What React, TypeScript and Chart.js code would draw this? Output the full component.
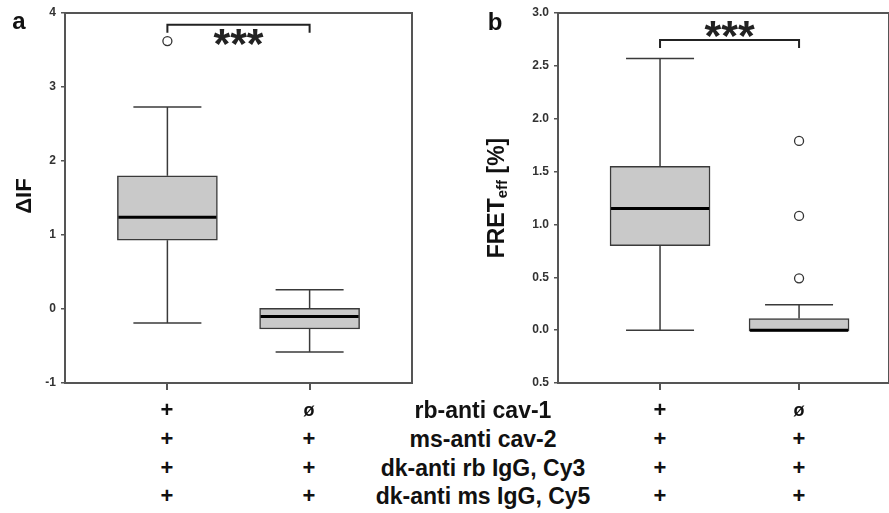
import React, { useEffect, useRef } from 'react';
import { Chart, registerables } from 'chart.js';

Chart.register(...registerables);

// ---------- data ----------
const groupPositions = [1, 2];

// Panel a: ΔIF
const aLowerWhisker = [-0.19, -0.58];
const aQ1 = [0.93, -0.27];
const aMedian = [1.24, -0.1];
const aQ3 = [1.8, 0.01];
const aUpperWhisker = [2.73, 0.26];
const aOutlierGroups = [1];
const aOutlierValues = [3.62];
const aTicks = [-1, 0, 1, 2, 3, 4];
const aTickLabels = ['-1', '0', '1', '2', '3', '4'];
const aBracketValue = 3.84;

// Panel b: FRETeff [%]
const bLowerWhisker = [0.0, -0.01];
const bQ1 = [0.8, -0.01];
const bMedian = [1.15, 0.0];
const bQ3 = [1.55, 0.11];
const bUpperWhisker = [2.57, 0.24];
const bOutlierGroups = [2, 2, 2];
const bOutlierValues = [1.79, 1.08, 0.49];
const bTicks = [-0.5, 0, 0.5, 1, 1.5, 2, 2.5, 3];
const bTickLabels = ['0.5', '0.0', '0.5', '1.0', '1.5', '2.0', '2.5', '3.0'];
const bBracketValue = 2.745;

const significance = '***';
const rowLabels = ['rb-anti cav-1', 'ms-anti cav-2', 'dk-anti rb IgG, Cy3', 'dk-anti ms IgG, Cy5'];
const group1Marks = ['+', '+', '+', '+'];
const group2Marks = ['ø', '+', '+', '+'];

// ---------- styling ----------
const FONT = '"Liberation Sans", Arial, Helvetica, sans-serif';
const AXIS_COLOR = '#555555';
const LINE_COLOR = '#3a3a3a';
const BOX_FILL = '#c9c9c9';

const boxDecor = {
  id: 'boxDecor',
  afterDatasetsDraw(chart: any, _args: any, opts: any) {
    const { ctx, chartArea, scales } = chart;
    const x = scales.x;
    const y = scales.y;
    ctx.save();
    // frame
    ctx.strokeStyle = AXIS_COLOR;
    ctx.lineWidth = 2;
    ctx.strokeRect(chartArea.left, chartArea.top, chartArea.right - chartArea.left, chartArea.bottom - chartArea.top);

    const line = (x1: number, y1: number, x2: number, y2: number) => {
      ctx.beginPath();
      ctx.moveTo(x1, y1);
      ctx.lineTo(x2, y2);
      ctx.stroke();
    };
    const meta = chart.getDatasetMeta(0);
    opts.positions.forEach((p: number, i: number) => {
      const cx = x.getPixelForValue(p);
      const capHalf = 34;
      ctx.strokeStyle = LINE_COLOR;
      ctx.lineWidth = 1.5;
      line(cx, y.getPixelForValue(opts.q3[i]), cx, y.getPixelForValue(opts.upper[i]));
      line(cx, y.getPixelForValue(opts.q1[i]), cx, y.getPixelForValue(opts.lower[i]));
      line(cx - capHalf, y.getPixelForValue(opts.upper[i]), cx + capHalf, y.getPixelForValue(opts.upper[i]));
      if (opts.lower[i] !== opts.q1[i]) {
        line(cx - capHalf, y.getPixelForValue(opts.lower[i]), cx + capHalf, y.getPixelForValue(opts.lower[i]));
      }
      const el = meta.data[i];
      const half = el.width / 2;
      ctx.strokeStyle = '#000000';
      ctx.lineWidth = 3;
      line(cx - half + 1, y.getPixelForValue(opts.median[i]), cx + half - 1, y.getPixelForValue(opts.median[i]));
    });

    // significance bracket
    const bx1 = x.getPixelForValue(opts.positions[0]);
    const bx2 = x.getPixelForValue(opts.positions[1]);
    const by = y.getPixelForValue(opts.bracket);
    ctx.strokeStyle = '#222222';
    ctx.lineWidth = 2;
    ctx.beginPath();
    ctx.moveTo(bx1, by + 8);
    ctx.lineTo(bx1, by);
    ctx.lineTo(bx2, by);
    ctx.lineTo(bx2, by + 8);
    ctx.stroke();

    ctx.fillStyle = '#222222';
    ctx.font = 'bold 43px ' + FONT;
    ctx.textAlign = 'center';
    ctx.textBaseline = 'alphabetic';
    ctx.fillText(opts.label, (bx1 + bx2) / 2, by + opts.labelOffset + 20);
    ctx.restore();
  },
};

function makeConfig(p: {
  lower: number[]; q1: number[]; median: number[]; q3: number[]; upper: number[];
  outG: number[]; outV: number[]; ticks: number[]; tickLabels: string[];
  yMin: number; yMax: number; xMin: number; xMax: number; axisWidth: number;
  bracket: number; labelOffset: number; padRight: number;
}): any {
  return {
    type: 'bar',
    data: {
      datasets: [
        {
          type: 'bar',
          data: groupPositions.map((g, i) => ({ x: g, y: [p.q1[i], p.q3[i]] })),
          backgroundColor: BOX_FILL,
          borderColor: LINE_COLOR,
          borderWidth: 1.5,
          borderSkipped: false,
          barThickness: 100,
        },
        {
          type: 'scatter',
          data: p.outG.map((g, i) => ({ x: g, y: p.outV[i] })),
          backgroundColor: '#ffffff',
          borderColor: '#333333',
          borderWidth: 1.3,
          pointRadius: 4.5,
        },
      ],
    },
    options: {
      animation: false,
      responsive: true,
      maintainAspectRatio: false,
      layout: { autoPadding: false, padding: { top: 13, right: p.padRight, bottom: 0, left: 0 } },
      plugins: {
        legend: { display: false },
        tooltip: { enabled: false },
        boxDecor: {
          positions: groupPositions,
          lower: p.lower, q1: p.q1, median: p.median, q3: p.q3, upper: p.upper,
          bracket: p.bracket, label: significance, labelOffset: p.labelOffset,
        },
      },
      scales: {
        x: {
          type: 'linear',
          min: p.xMin,
          max: p.xMax,
          offset: false,
          afterBuildTicks: (s: any) => { s.ticks = groupPositions.map((v) => ({ value: v })); },
          afterFit: (s: any) => { s.height = 17; s.paddingLeft = 0; s.paddingRight = 0; },
          ticks: { callback: () => '', display: true },
          grid: { display: true, offset: false, drawOnChartArea: false, drawTicks: true, tickLength: 7, color: AXIS_COLOR, lineWidth: 2 },
          border: { display: false },
        },
        y: {
          type: 'linear',
          min: p.yMin,
          max: p.yMax,
          afterBuildTicks: (s: any) => { s.ticks = p.ticks.map((v) => ({ value: v })); },
          afterFit: (s: any) => { s.width = p.axisWidth; },
          ticks: {
            callback: (v: number) => p.tickLabels[p.ticks.indexOf(v)],
            color: '#333333',
            font: { family: FONT, size: 12, weight: 'bold' },
            padding: 5,
          },
          grid: { display: true, drawOnChartArea: false, drawTicks: true, tickLength: 4, color: AXIS_COLOR, lineWidth: 1.5 },
          border: { display: false },
        },
      },
    },
    plugins: [boxDecor],
  };
}

function ChartBox(props: { left: number; width: number; config: any }) {
  const ref = useRef<HTMLCanvasElement | null>(null);
  useEffect(() => {
    if (!ref.current) return;
    const chart = new Chart(ref.current, props.config);
    return () => chart.destroy();
  }, []);
  return (
    <div style={{ position: 'absolute', left: props.left, top: 0, width: props.width, height: 400 }}>
      <canvas ref={ref} />
    </div>
  );
}

const textStyle: React.CSSProperties = {
  position: 'absolute',
  fontFamily: FONT,
  fontWeight: 'bold',
  color: '#111111',
  lineHeight: 1,
  whiteSpace: 'nowrap',
  transform: 'translate(-50%, -50%)',
};

export default function App() {
  const configA = makeConfig({
    lower: aLowerWhisker, q1: aQ1, median: aMedian, q3: aQ3, upper: aUpperWhisker,
    outG: aOutlierGroups, outV: aOutlierValues, ticks: aTicks, tickLabels: aTickLabels,
    yMin: -1, yMax: 4, xMin: 0.28, xMax: 2.72, axisWidth: 65,
    bracket: aBracketValue, labelOffset: 13, padRight: 8,
  });
  const configB = makeConfig({
    lower: bLowerWhisker, q1: bQ1, median: bMedian, q3: bQ3, upper: bUpperWhisker,
    outG: bOutlierGroups, outV: bOutlierValues, ticks: bTicks, tickLabels: bTickLabels,
    yMin: -0.5, yMax: 3.0, xMin: 0.266, xMax: 2.647, axisWidth: 118,
    bracket: bBracketValue, labelOffset: -10, padRight: 0,
  });
  const rowY = [410, 439, 468, 496];
  return (
    <div style={{ position: 'fixed', left: 0, top: 0, width: 889, height: 513, background: '#ffffff', overflow: 'hidden' }}>
      <ChartBox left={0} width={420} config={configA} />
      <ChartBox left={440} width={449} config={configB} />

      <div style={{ ...textStyle, left: 19, top: 21, fontSize: 24 }}>a</div>
      <div style={{ ...textStyle, left: 495, top: 22, fontSize: 24 }}>b</div>

      <div style={{ ...textStyle, left: 24, top: 196, fontSize: 22, transform: 'translate(-50%, -50%) rotate(-90deg)' }}>ΔIF</div>
      <div style={{ ...textStyle, left: 497, top: 198, fontSize: 23, transform: 'translate(-50%, -50%) rotate(-90deg)' }}>
        FRET<sub style={{ fontSize: 15, verticalAlign: '-0.25em' }}>eff</sub> [%]
      </div>

      {rowLabels.map((lbl, i) => (
        <React.Fragment key={lbl}>
          <div style={{ ...textStyle, left: 167, top: rowY[i], fontSize: 22 }}>{group1Marks[i]}</div>
          <div style={{ ...textStyle, left: 309, top: rowY[i], fontSize: group2Marks[i] === 'ø' ? 18 : 22 }}>{group2Marks[i]}</div>
          <div style={{ ...textStyle, left: 483, top: rowY[i], fontSize: 23 }}>{lbl}</div>
          <div style={{ ...textStyle, left: 660, top: rowY[i], fontSize: 22 }}>{group1Marks[i]}</div>
          <div style={{ ...textStyle, left: 799, top: rowY[i], fontSize: group2Marks[i] === 'ø' ? 18 : 22 }}>{group2Marks[i]}</div>
        </React.Fragment>
      ))}
    </div>
  );
}
